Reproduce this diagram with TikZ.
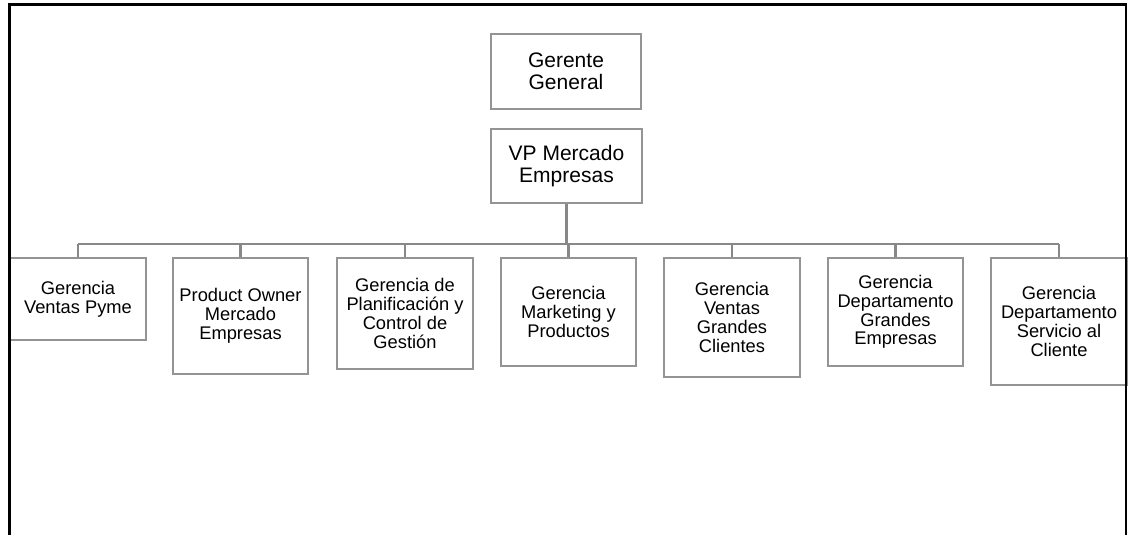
\documentclass[tikz,border=0pt]{standalone}
\usepackage{fontspec}
\setmainfont{Liberation Sans}
\begin{document}
\begin{tikzpicture}[x=1pt,y=-1pt,
  unit/.style={draw=boxgray,line width=2.4pt,fill=white,rectangle,align=center,inner sep=2pt},
  topunit/.style={unit,font=\fontsize{21}{22.5}\selectfont},
  subunit/.style={unit,font=\fontsize{18.3}{18.8}\selectfont},
  link/.style={draw=linegray,line width=2.4pt}]
\definecolor{boxgray}{RGB}{148,148,148}
\definecolor{linegray}{RGB}{136,136,136}
\useasboundingbox (0,0) rectangle (1128,535);

% management
\node[topunit,minimum width=150pt,minimum height=75pt] (gg) at (566,71.5) {Gerente\\General};
\node[topunit,minimum width=151pt,minimum height=74pt] (vp) at (566.5,166) {VP Mercado\\Empresas};

% departments
\node[subunit,minimum width=136pt,minimum height=82pt]  (c1) at (78,299)     {Gerencia\\Ventas Pyme};
\node[subunit,minimum width=135pt,minimum height=116pt] (c2) at (240.5,316)  {Product Owner\\Mercado\\Empresas};
\node[subunit,minimum width=136pt,minimum height=111pt] (c3) at (405,313.5)  {Gerencia de\\Planificación y\\Control de\\Gestión};
\node[subunit,minimum width=135pt,minimum height=108pt] (c4) at (568.5,312)  {Gerencia\\Marketing y\\Productos};
\node[subunit,minimum width=136pt,minimum height=119pt] (c5) at (732,317.5)  {Gerencia\\Ventas\\Grandes\\Clientes};
\node[subunit,minimum width=135pt,minimum height=108pt] (c6) at (895.5,312)  {Gerencia\\Departamento\\Grandes\\Empresas};
\node[subunit,minimum width=136pt,minimum height=127pt] (c7) at (1059,321.5) {Gerencia\\Departamento\\Servicio al\\Cliente};

% connectors
\coordinate (bus) at (0,244);
\draw[link] (vp.south) -- (vp.south |- bus);
\draw[link] (c1.north |- bus) -- (c7.north |- bus);
\foreach \c in {c1,c2,c3,c4,c5,c6,c7}
  \draw[link] (\c.north |- bus) -- (\c.north);

% outer frame
\draw[line width=2.4pt,black] (9.5,535) -- (9.5,4.5) -- (1126,4.5) -- (1126,535);
\end{tikzpicture}
\end{document}
